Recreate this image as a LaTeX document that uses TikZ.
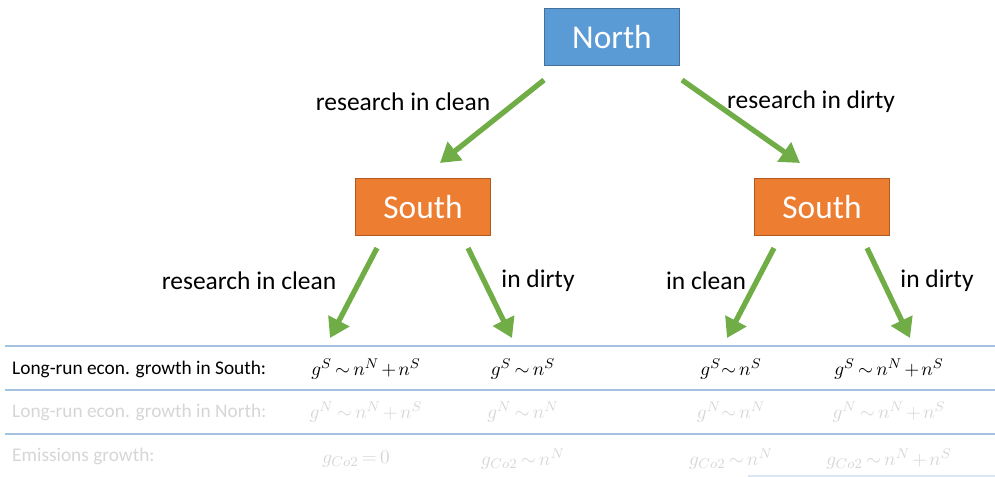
\documentclass[tikz,border=0pt]{standalone}
\usepackage{fontspec}
\setmainfont{Carlito}
\usetikzlibrary{arrows.meta}
\definecolor{northblue}{HTML}{5B9BD5}
\definecolor{northedge}{HTML}{41719C}
\definecolor{southorange}{HTML}{ED7D31}
\definecolor{southedge}{HTML}{AE5A21}
\definecolor{arrowgreen}{HTML}{70AD47}
\definecolor{rulecol}{HTML}{A3C2E0}
\definecolor{fadedtext}{HTML}{D6D6D6}
\newcommand{\tightmath}{\medmuskip=2mu\relax\thickmuskip=3mu\relax}
\tikzset{
  region/.style={draw, line width=0.6pt, minimum width=2.7cm, minimum height=1.14cm,
    text=white, font=\fontsize{19}{22}\selectfont},
  northbox/.style={region, fill=northblue, draw=northedge},
  southbox/.style={region, fill=southorange, draw=southedge},
  choice/.style={arrowgreen, line width=3pt, -{Triangle[length=11pt,width=13pt]}},
  choicelabel/.style={font=\fontsize{14.5}{17}\selectfont},
  rowlabel/.style={anchor=west, font=\fontsize{11}{13}\selectfont},
  result/.style={font=\fontsize{11.2}{13}\selectfont\tightmath},
  tablerule/.style={rulecol, line width=0.8pt}
}
\begin{document}
\begin{tikzpicture}[x=0.02cm, y=-0.02cm]
    \useasboundingbox (0,0) rectangle (995,477);
    % Regiones
    \node[northbox] (north) at (612,37) {North};
    \node[southbox] (southL) at (423,207) {South};
    \node[southbox] (southR) at (822,207) {South};
    % Puntos de las flechas
    \coordinate (nl) at ([shift={(0,14)}]north.south west);
    \coordinate (nr) at ([shift={(2,14)}]north.south east);
    \coordinate (sl) at ([shift={(17,-15)}]southL.north);
    \coordinate (sr) at ([shift={(-22,-15)}]southR.north);
    \coordinate (ll) at ([shift={(22,12)}]southL.south west);
    \coordinate (lr) at ([shift={(-23,12)}]southL.south east);
    \coordinate (rl) at ([shift={(20,12)}]southR.south west);
    \coordinate (rr) at ([shift={(-23,12)}]southR.south east);
    \coordinate (ell) at (330,338);
    \coordinate (elr) at (512,338);
    \coordinate (erl) at (727,338);
    \coordinate (err) at (910,338);
    % Flechas
    \draw[choice] (nl) -- (sl);
    \draw[choice] (nr) -- (sr);
    \draw[choice] (ll) -- (ell);
    \draw[choice] (lr) -- (elr);
    \draw[choice] (rl) -- (erl);
    \draw[choice] (rr) -- (err);
    % Etiquetas
    \node[choicelabel] (t1) at (403,102) {research in clean};
    \node[choicelabel] (t2) at (811,102) {research in dirty};
    \node[choicelabel] (t3) at (249,281) {research in clean};
    \node[choicelabel] (t4) at (538,281) {in dirty};
    \node[choicelabel] (t5) at (706,281) {in clean};
    \node[choicelabel] (t6) at (937,281) {in dirty};
    % Tabla
    \draw[tablerule] (5,346) -- (995,346);
    \draw[tablerule] (5,390) -- (995,390);
    \draw[tablerule] (5,434) -- (995,434);
    \draw[tablerule, rulecol!40] (748,476) -- (995,476);
    \node[rowlabel] (row1) at (6,369) {Long-run econ. growth in South:};
    \node[result] (r11) at (366,369) {$g^S \sim n^N + n^S$};
    \node[result] (r12) at (523,369) {$g^S \sim n^S$};
    \node[result] (r13) at (731,369) {$g^S{\sim}\, n^S$};
    \node[result] (r14) at (889,369) {$g^S \sim n^N + n^S$};
    \begin{scope}[fadedtext]
    \node[rowlabel] (row2) at (6,412) {Long-run econ. growth in North:};
    \node[result] (r21) at (366,412) {$g^N \sim n^N + n^S$};
    \node[result] (r22) at (523,412) {$g^N \sim n^N$};
    \node[result] (r23) at (731,412) {$g^N{\sim}\, n^N$};
    \node[result] (r24) at (889,412) {$g^N \sim n^N + n^S$};
    \node[rowlabel] (row3) at (6,456) {Emissions growth:};
    \node[result] (r31) at (356,459) {$g_{Co2} = 0$};
    \node[result] (r32) at (523,459) {$g_{Co2} \sim n^N$};
    \node[result] (r33) at (731,459) {$g_{Co2} \sim n^N$};
    \node[result] (r34) at (889,459) {$g_{Co2} \sim n^N + n^S$};
    \end{scope}
\end{tikzpicture}
\end{document}
